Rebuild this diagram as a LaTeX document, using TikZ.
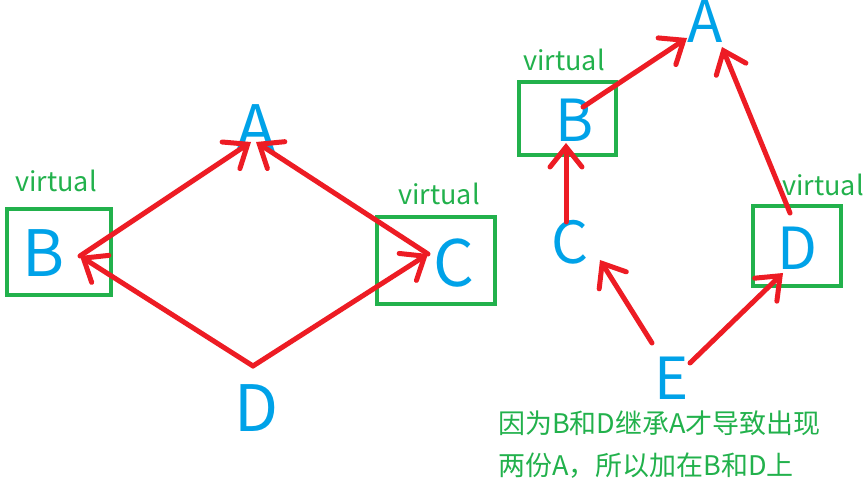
\documentclass[tikz,border=0pt]{standalone}
\usepackage{fontspec}
\setmainfont{Noto Sans CJK SC}
\usetikzlibrary{arrows.meta}
\definecolor{pred}{HTML}{ED1C24}
\definecolor{pgreen}{HTML}{22B14C}
\definecolor{pblue}{HTML}{00A2E8}
\begin{document}
\begin{tikzpicture}[x=1pt,y=-1pt,
  bigletter/.style={text=pblue,inner sep=0pt,font=\fontsize{64}{64}\selectfont},
  letter/.style={text=pblue,inner sep=0pt,font=\fontsize{58}{58}\selectfont},
  vlabel/.style={text=pgreen,inner sep=0pt,font=\fontsize{27}{27}\selectfont},
  note/.style={text=pgreen,inner sep=0pt,anchor=west,font=\fontsize{27}{27}\selectfont},
  vbox/.style={draw=pgreen,line width=4pt,inner sep=0pt},
  arr/.style={draw=pred,line width=5pt,line cap=round,
    -{Straight Barb[length=20pt,width=32pt,line cap=round]}}]
\useasboundingbox (0,0) rectangle (868,486);
% left diagram
\node[vbox,minimum width=104pt,minimum height=86pt] (lBbox) at (59,252) {};
\node[vbox,minimum width=118pt,minimum height=87pt] (lCbox) at (436,260.5) {};
\node[bigletter] (lA) at (256,128) {A};
\node[bigletter] (lB) at (44,253) {B};
\node[bigletter] (lC) at (454,263) {C};
\node[bigletter] (lD) at (257,408) {D};
\node[vlabel] (lvB) at (56,181) {virtual};
\node[vlabel] (lvC) at (439,194) {virtual};
\coordinate (lDtop) at (253,366);
\coordinate (lBin) at (80,256);
\coordinate (lCin) at (428,254);
\coordinate (lAin1) at (251,142);
\coordinate (lAin2) at (256,142);
\draw[arr] (lDtop) -- (lBin);
\draw[arr] (lDtop) -- (lCin);
\draw[arr] (lBin) -- (lAin1);
\draw[arr] (lCin) -- (lAin2);
% right diagram
\node[vbox,minimum width=97pt,minimum height=73pt] (rBbox) at (567.5,118.5) {};
\node[vbox,minimum width=88pt,minimum height=80pt] (rDbox) at (797,246) {};
\node[letter] (rA) at (705,21) {A};
\node[letter] (rB) at (575,120) {B};
\node[letter] (rC) at (570,242) {C};
\node[letter] (rD) at (797,248) {D};
\node[letter] (rE) at (672,378) {E};
\node[vlabel] (rvB) at (564,60) {virtual};
\node[vlabel] (rvD) at (823,185) {virtual};
\coordinate (rBout) at (583,107);
\coordinate (rAin1) at (687,38);
\coordinate (rDout) at (790,213);
\coordinate (rAin2) at (722,47);
\coordinate (rCout) at (566,222);
\coordinate (rBin) at (566,143);
\coordinate (rEout1) at (652,343);
\coordinate (rCin) at (600,260);
\coordinate (rEout2) at (690,363);
\coordinate (rDin) at (783,273);
\draw[arr] (rBout) -- (rAin1);
\draw[arr] (rDout) -- (rAin2);
\draw[arr] (rCout) -- (rBin);
\draw[arr] (rEout1) -- (rCin);
\draw[arr] (rEout2) -- (rDin);
\node[note] (n1) at (498,423) {因为B和D继承A才导致出现};
\node[note] (n2) at (498,466) {两份A，所以加在B和D上};
\end{tikzpicture}
\end{document}
